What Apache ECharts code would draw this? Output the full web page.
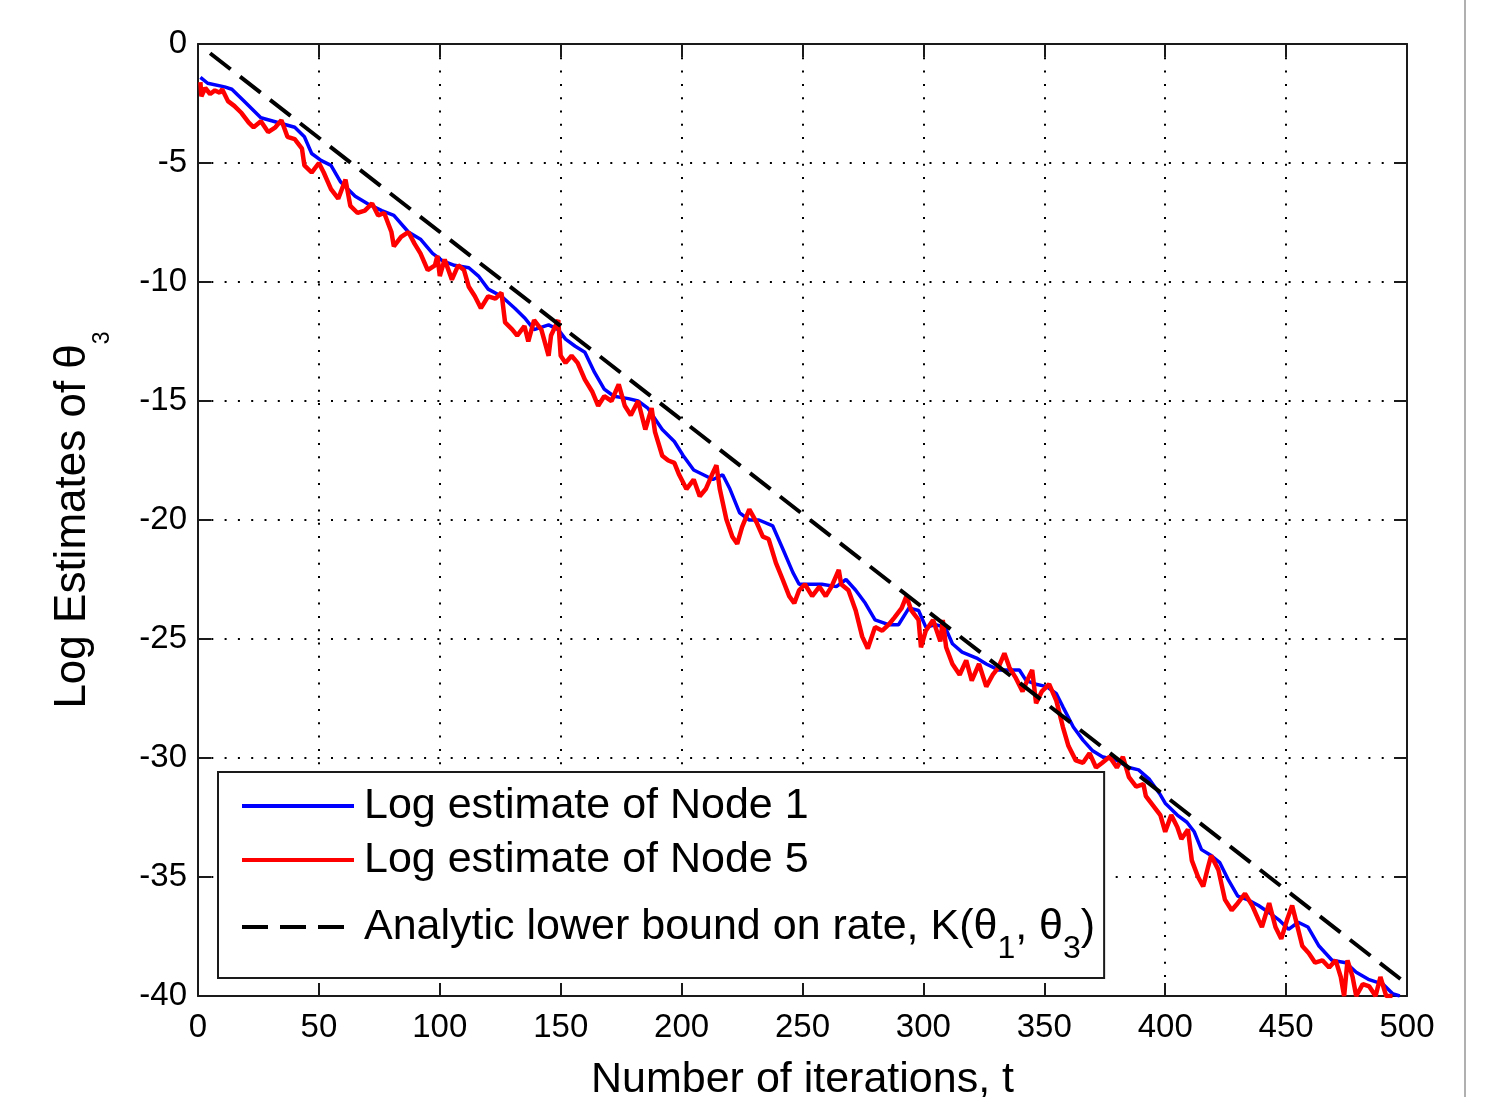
<!DOCTYPE html>
<html>
<head>
<meta charset="utf-8">
<script src="https://cdn.jsdelivr.net/npm/echarts@6/dist/echarts.min.js"></script>
<style>
html,body{margin:0;padding:0;background:#fff;}
#chart{width:1486px;height:1097px;}
</style>
</head>
<body>
<div id="chart"></div>
<script>
// ---------- data ----------
const xTicks = [0, 50, 100, 150, 200, 250, 300, 350, 400, 450, 500];
const yTicks = [-40, -35, -30, -25, -20, -15, -10, -5, 0];

const seriesNames = [
  'Log estimate of Node 1',
  'Log estimate of Node 5',
  'Analytic lower bound on rate, K(θ1, θ3)'
];

const node1Iter = [1,4,11,14,19,26,33,40,44,47,51,55,59,65,70,76,81,87,92,97,101,106,112,116,120,125.5,131,135,139,145,149,152,156,160,164,168,172,178,182,186,192,197,200.7,205,209,213,217,220,224,228,232,237.7,242,246,248.6,253,258,264,268,272,276,280,285.6,289.7,294,298,301,305,309,312,316,322,326,331,335.6,339.7,342.5,346.6,351,355,357.7,362,366,370,374,380,385,389,393.5,397.7,400,405,409,412,415,419,422.6,426,430,434,438.6,443,447,451,455,459,463.6,469,474.7,479,484,490,494,497];
const node1Log = [-1.4,-1.65,-1.8,-1.9,-2.4,-3.1,-3.3,-3.5,-3.9,-4.6,-4.9,-5.1,-5.8,-6.4,-6.7,-7.0,-7.2,-7.9,-8.2,-8.8,-9.1,-9.3,-9.4,-9.75,-10.3,-10.6,-11.1,-11.5,-12.0,-11.8,-12.0,-12.4,-12.7,-12.95,-13.8,-14.5,-14.8,-14.9,-15.0,-15.3,-16.2,-16.7,-17.3,-17.9,-18.1,-18.3,-18.1,-18.7,-19.7,-20.0,-20.0,-20.25,-21.25,-22.2,-22.7,-22.7,-22.7,-22.8,-22.5,-22.95,-23.5,-24.2,-24.4,-24.4,-23.7,-23.8,-24.5,-24.4,-24.5,-25.2,-25.55,-25.8,-26.05,-26.3,-26.3,-26.3,-26.75,-26.9,-27.0,-27.3,-27.85,-28.7,-29.25,-29.7,-29.95,-30.1,-30.4,-30.5,-30.9,-31.5,-31.9,-32.4,-32.7,-33.1,-33.85,-34.1,-34.4,-35.1,-35.8,-35.95,-36.2,-36.5,-36.8,-37.2,-36.9,-37.1,-37.9,-38.5,-38.6,-39.0,-39.3,-39.5,-39.9,-40.0];

const node5Iter = [1,1.4,3,5,7,9,10,12.4,15,18,21,23,26,29,32,34.5,37,40,43,44,47,50,52,55,58,61,63,66,69,72,74.5,77,80,81,84,87,89.6,92,95,98,99,100,102,105,107.6,110,112,114.5,117,120,123,125.5,127,130,132,135,136.6,139,142,145,146,149,150,152,154.5,157,160,163,165.5,168,171,174,176.5,179,182,185,187.6,189,192,194.5,197,199,202,205,207.5,210,213,214.4,215.8,218.5,221,223,225,228,231,233.6,236,239,241.8,244.5,246.6,248.6,251,254,257,259.6,262,265,266,269,272,274.7,277,280,283,285.6,288,291,293,295,298,299,301,304,307,308,309.4,312,315,317.7,320,323,326,328.7,331,333.5,335.6,338,341,344,345,346.6,349,352,355,357.7,360,363,366,368.7,371.4,374,377,380,382.5,385,388,391,392,395,398,400,402.5,405,406.7,409.4,411,413.6,415.7,417.8,419,422,424.7,427.5,430,433,436,438.6,440,443,445.6,448,450.4,452.5,454,456.7,459.4,462,465,467.8,470.5,472.6,474,475.4,477.5,479,481.7,484.4,487,489,491.4,494];
const node5Log = [-1.6,-2.2,-1.85,-2.1,-1.95,-2.05,-1.9,-2.4,-2.6,-2.9,-3.3,-3.5,-3.25,-3.7,-3.5,-3.2,-3.9,-4.0,-4.4,-5.1,-5.4,-5.0,-5.4,-6.1,-6.5,-5.7,-6.8,-7.1,-7.0,-6.7,-7.2,-7.1,-7.9,-8.5,-8.1,-7.9,-8.4,-8.8,-9.5,-9.3,-8.9,-9.75,-9.05,-9.9,-9.3,-9.5,-10.2,-10.6,-11.1,-10.6,-10.7,-10.45,-11.7,-12.0,-12.25,-11.85,-12.5,-11.6,-12.0,-13.1,-12.25,-11.6,-13.1,-13.4,-13.1,-13.4,-14.1,-14.6,-15.2,-14.8,-15.0,-14.3,-15.2,-15.6,-15.0,-16.2,-15.3,-16.3,-17.3,-17.5,-17.6,-18.1,-18.7,-18.3,-19.0,-18.7,-18.0,-17.7,-18.7,-19.97,-20.7,-21.0,-20.3,-19.55,-20.1,-20.7,-20.8,-21.8,-22.5,-23.2,-23.5,-22.95,-22.7,-23.2,-22.8,-23.2,-22.8,-22.1,-22.7,-22.95,-23.8,-24.9,-25.4,-24.5,-24.65,-24.4,-24.1,-23.7,-23.2,-23.8,-24.2,-25.35,-24.65,-24.2,-25.1,-24.2,-25.35,-26.05,-26.5,-25.9,-26.75,-26.05,-27.0,-26.5,-26.2,-25.6,-26.2,-26.6,-27.2,-26.5,-26.3,-27.7,-27.2,-26.9,-27.6,-28.7,-29.5,-30.1,-30.2,-29.8,-30.4,-30.2,-29.95,-30.4,-29.95,-30.8,-31.2,-31.1,-31.6,-32.0,-32.4,-33.1,-32.4,-32.9,-33.4,-33.0,-34.3,-35.0,-35.4,-34.55,-34.1,-34.7,-35.95,-36.4,-36.1,-35.7,-36.2,-36.8,-37.1,-36.1,-37.1,-37.6,-36.8,-36.2,-36.8,-37.9,-38.2,-38.6,-38.5,-38.8,-38.5,-39.2,-40.0,-38.5,-39.2,-40.0,-39.5,-39.6,-40.0,-39.2,-40.0,-40.0];

const boundIter = [5, 500];
const boundLog = [-0.39, -39.5];

// ---------- build ----------
const zip = (a, b) => a.map((v, i) => [v, b[i]]);
const FONT = "'Liberation Sans', Arial, Helvetica, sans-serif";
const AX = '#1a1a1a';

const chart = echarts.init(document.getElementById('chart'), null, {renderer: 'canvas'});

const xMin = xTicks[0], xMax = xTicks[xTicks.length - 1], xInt = xTicks[1] - xTicks[0];
const yMin = yTicks[0], yMax = yTicks[yTicks.length - 1], yInt = yTicks[1] - yTicks[0];

const option = {
  animation: false,
  backgroundColor: '#ffffff',
  grid: {left: 198, top: 44, width: 1209, height: 952, containLabel: false, outerBoundsMode: 'none'},
  xAxis: [{
    type: 'value', min: xMin, max: xMax, interval: xInt, position: 'bottom',
    axisLine: {show: true, onZero: false, lineStyle: {color: AX, width: 2}},
    axisTick: {show: true, inside: true, length: 13, lineStyle: {color: AX, width: 2}},
    axisLabel: {show: true, margin: 15, color: '#000', fontFamily: FONT, fontSize: 33},
    splitLine: {show: true, lineStyle: {color: '#000', width: 2, type: [2, 11.3]}},
    name: 'Number of iterations, t', nameLocation: 'middle', nameGap: 63,
    nameTextStyle: {color: '#000', fontFamily: FONT, fontSize: 43}
  }, {
    type: 'value', min: xMin, max: xMax, interval: xInt, position: 'top',
    axisLine: {show: true, onZero: false, lineStyle: {color: AX, width: 2}},
    axisTick: {show: true, inside: true, length: 13, lineStyle: {color: AX, width: 2}},
    axisLabel: {show: false}, splitLine: {show: false}
  }],
  yAxis: [{
    type: 'value', min: yMin, max: yMax, interval: yInt, position: 'left',
    axisLine: {show: true, onZero: false, lineStyle: {color: AX, width: 2}},
    axisTick: {show: true, inside: true, length: 13, lineStyle: {color: AX, width: 2}},
    axisLabel: {show: true, margin: 11, color: '#000', fontFamily: FONT, fontSize: 33},
    splitLine: {show: true, lineStyle: {color: '#000', width: 2, type: [2, 11.3]}},
    name: '{m|Log Estimates of θ}{s|3}', nameLocation: 'middle', nameGap: 44,
    nameTextStyle: {
      color: '#000', fontFamily: FONT, fontSize: 43,
      rich: {
        m: {fontFamily: FONT, fontSize: 44, color: '#000', lineHeight: 44, verticalAlign: 'top'},
        s: {fontFamily: FONT, fontSize: 23, color: '#000', lineHeight: 103}
      }
    }
  }, {
    type: 'value', min: yMin, max: yMax, interval: yInt, position: 'right',
    axisLine: {show: true, onZero: false, lineStyle: {color: AX, width: 2}},
    axisTick: {show: true, inside: true, length: 13, lineStyle: {color: AX, width: 2}},
    axisLabel: {show: false}, splitLine: {show: false}
  }],
  legend: {
    orient: 'vertical', left: 218, top: 772,
    padding: [9, 9, 13, 22],
    itemWidth: 112, itemHeight: 2, itemGap: 4,
    backgroundColor: '#ffffff', borderColor: '#1a1a1a', borderWidth: 2, borderRadius: 0,
    itemStyle: {opacity: 0},
    lineStyle: {width: 4},
    textStyle: {
      color: '#000', fontFamily: FONT, fontSize: 43, lineHeight: 50, padding: [0, 0, 0, 5],
      rich: {
        m: {fontFamily: FONT, fontSize: 43, color: '#000', lineHeight: 76},
        s: {fontFamily: FONT, fontSize: 32, color: '#000', lineHeight: 34, verticalAlign: 'bottom'}
      }
    },
    formatter: function (name) {
      if (name === seriesNames[2]) {
        return '{m|Analytic lower bound on rate, K(θ}{s|1}{m|, θ}{s|3}{m|)}';
      }
      return name;
    },
    data: seriesNames
  },
  series: [{
    name: seriesNames[0], type: 'line', xAxisIndex: 0, yAxisIndex: 0,
    data: zip(node1Iter, node1Log), symbol: 'none', showSymbol: false, clip: true,
    lineStyle: {color: '#0000ff', width: 3.5}, itemStyle: {color: '#0000ff'}, z: 3
  }, {
    name: seriesNames[1], type: 'line', xAxisIndex: 0, yAxisIndex: 0,
    data: zip(node5Iter, node5Log), symbol: 'none', showSymbol: false, clip: true,
    lineStyle: {color: '#ff0000', width: 4.5}, itemStyle: {color: '#ff0000'}, z: 4
  }, {
    name: seriesNames[2], type: 'line', xAxisIndex: 0, yAxisIndex: 0,
    data: zip(boundIter, boundLog), symbol: 'none', showSymbol: false, clip: true,
    lineStyle: {color: '#000000', width: 4, type: [26, 12]}, itemStyle: {color: '#000000'}, z: 5
  }],
  graphic: [{
    type: 'line', silent: true,
    shape: {x1: 1465, y1: 0, x2: 1465, y2: 1097},
    style: {stroke: '#b0b0b0', lineWidth: 2}
  }]
};

chart.setOption(option);
</script>
</body>
</html>
